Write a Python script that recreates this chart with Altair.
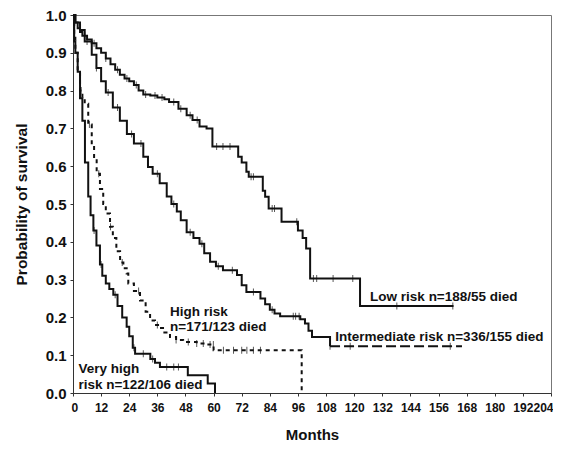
import altair as alt
import pandas as pd

# ---- Kaplan-Meier step data (month, survival) ----
low_t = [0, 1, 2, 3, 4, 6, 8, 10, 12, 14, 16, 18, 20, 22, 24, 26, 28, 30, 33, 36, 39, 41, 45, 48.5, 51, 54, 57,
         59.5, 70.5, 72, 74, 75, 81, 82, 83.5, 89, 96, 98, 99.5, 101.2, 122.5, 162.4]
low_s = [1.0, 0.98, 0.965, 0.955, 0.945, 0.935, 0.925, 0.912, 0.9, 0.885, 0.87, 0.855, 0.842, 0.832, 0.825, 0.815,
         0.8, 0.79, 0.787, 0.782, 0.777, 0.77, 0.752, 0.735, 0.722, 0.705, 0.7,
         0.652, 0.625, 0.61, 0.585, 0.572, 0.535, 0.519, 0.488, 0.453, 0.43, 0.41, 0.382, 0.303, 0.23, 0.23]

int_t = [0, 1, 3, 5, 8, 10, 12, 14, 17, 20, 23, 26, 30, 32, 34, 37, 40, 42, 44.3, 46, 48.5, 51.4, 54, 56, 58.5,
         61, 64, 70, 72, 74, 80, 82, 84, 86, 88.4, 97, 99, 100.5, 102, 109.7, 166]
int_s = [1.0, 0.98, 0.96, 0.93, 0.895, 0.86, 0.825, 0.795, 0.755, 0.72, 0.685, 0.66, 0.625, 0.598, 0.58, 0.555,
         0.52, 0.5, 0.48, 0.457, 0.425, 0.41, 0.395, 0.37, 0.347,
         0.335, 0.325, 0.312, 0.285, 0.267, 0.25, 0.235, 0.22, 0.21, 0.203, 0.195, 0.184, 0.165, 0.148, 0.124, 0.124]

high_t = [0, 0.5, 1, 2, 3, 4, 5, 6.5, 8, 9, 10.1, 11.5, 12.9, 14, 15.8, 17, 18.5, 20.1, 21.5, 22.9, 23.6, 26,
          28.6, 31, 32.9, 35, 37.1, 39, 41.4, 44, 47, 52.8, 57, 60, 97.6]
high_s = [1.0, 0.95, 0.9, 0.85, 0.8, 0.78, 0.765, 0.71, 0.655, 0.62, 0.58, 0.54, 0.5, 0.475, 0.44, 0.41, 0.375,
          0.345, 0.33, 0.316, 0.29, 0.27, 0.245, 0.215, 0.192, 0.18, 0.172, 0.16, 0.148, 0.14, 0.135, 0.131,
          0.128, 0.113, 0.0]

vhigh_t = [0, 0.5, 1, 2, 3, 4, 5.1, 6.5, 7.5, 8.7, 10, 11.5, 12.5, 14, 15.5, 17.2, 19, 21, 22.9, 24, 25.5, 26.5,
           33, 35, 37.1, 49, 57.5, 60.6]
vhigh_s = [1.0, 0.93, 0.9, 0.85, 0.78, 0.72, 0.61, 0.52, 0.47, 0.43, 0.39, 0.34, 0.31, 0.29, 0.275, 0.26, 0.23,
           0.2, 0.175, 0.15, 0.12, 0.104, 0.09, 0.08, 0.069, 0.047, 0.025, 0.0]

# censoring times (months)
low_c = [5, 9, 14, 19, 23, 27, 31, 35, 38, 43, 46, 50, 53, 61.3, 64, 67, 76, 77, 85, 86, 95.5, 102.6, 104, 111,
         119.4, 138.2, 162.1]
int_c = [6, 10, 15, 19, 25, 29, 36, 43, 50, 55, 62, 68, 77, 85, 94, 95, 96.5, 109.7, 118.3, 161]
high_c = [3.5, 7, 11, 16, 21, 28, 36, 44, 49.2, 52.8, 55.6, 58.5, 59.9, 64.2, 68.5, 72, 74.2, 77, 80]
vhigh_c = [9, 12, 18, 26, 30, 34, 40, 43, 45]

x_ticks = list(range(0, 205, 12))
y_ticks = [round(i * 0.1, 1) for i in range(11)]

labels_txt = ["Low risk n=188/55 died", "Intermediate risk n=336/155 died", "High risk", "n=171/123 died",
              "Very high", "risk n=122/106 died"]
labels_m = [126.8, 111.9, 41.4, 41.4, 2.3, 2.3]
labels_s = [0.254, 0.148, 0.2145, 0.175, 0.0646, 0.0204]

FONT = "Liberation Sans, Arial, sans-serif"


def surv_at(ts, ss, t):
    v = ss[0]
    for a, b in zip(ts, ss):
        if a <= t:
            v = b
    return v


rows = []
k = 0
split = int_t.index(109.7)
curves = [
    ("low", low_t, low_s),
    ("int_a", int_t[:split + 1], int_s[:split + 1]),
    ("int_b", int_t[split:], int_s[split:]),
    ("high", high_t, high_s),
    ("vhigh", vhigh_t, vhigh_s),
]
for g, ts, ss in curves:
    for t, s in zip(ts, ss):
        rows.append({"group": g, "month": t, "surv": s, "i": k})
        k += 1
lines_df = pd.DataFrame(rows)

cens = []
for g, ts, ss, cs in [("low", low_t, low_s, low_c), ("int", int_t, int_s, int_c),
                      ("high", high_t, high_s, high_c), ("vhigh", vhigh_t, vhigh_s, vhigh_c)]:
    for c in cs:
        cens.append({"group": g, "month": c, "surv": surv_at(ts, ss, c)})
cens_df = pd.DataFrame(cens)

lab_df = pd.DataFrame({"text": labels_txt, "month": labels_m, "surv": labels_s})

xs = alt.Scale(domain=[0, 204], nice=False, zero=False)
ys = alt.Scale(domain=[0, 1], nice=False)
xax = alt.Axis(values=x_ticks, format="d", labelFlush=True, labelFlushOffset=2, labelOverlap=False, grid=False,
               labelFontSize=12, labelPadding=6, titlePadding=14, titleFontSize=15)
yax = alt.Axis(values=y_ticks, format=".1f", grid=False, labelOverlap=False,
               labelFontSize=15, labelPadding=4, titlePadding=16, titleFontSize=15.5)
X = alt.X("month:Q", scale=xs, title="Months", axis=xax)
Y = alt.Y("surv:Q", scale=ys, title="Probability of survival", axis=yax)

lines = alt.Chart(lines_df).mark_line(interpolate="step-after", strokeWidth=2, color="#111").encode(
    x=X, y=Y,
    detail="group:N",
    order="i:Q",
    strokeDash=alt.StrokeDash("group:N", legend=None, scale=alt.Scale(
        domain=["low", "int_a", "int_b", "high", "vhigh"],
        range=[[1, 0], [1, 0], [10, 4], [4, 4], [1, 0]])),
)

ticks = alt.Chart(cens_df).mark_tick(orient="vertical", size=7, thickness=1, color="#111").encode(x=X, y=Y)

texts = alt.Chart(lab_df).mark_text(align="left", baseline="middle", font=FONT, fontSize=13.5,
                                    fontWeight="bold", color="#111").encode(x=X, y=Y, text="text:N")

chart = (lines + ticks + texts).properties(
    width=478, height=378, autosize="none",
    padding={"left": 65, "top": 7, "right": 2, "bottom": 56},
).configure_view(stroke="#777", strokeWidth=1).configure_axis(
    labelFont=FONT, labelFontWeight="bold", labelColor="#111",
    titleFont=FONT, titleFontWeight="bold", titleColor="#111",
    domainColor="#333", tickColor="#333", tickSize=3,
)

chart.save("out.html", embed_options={"renderer": "svg", "actions": False})
